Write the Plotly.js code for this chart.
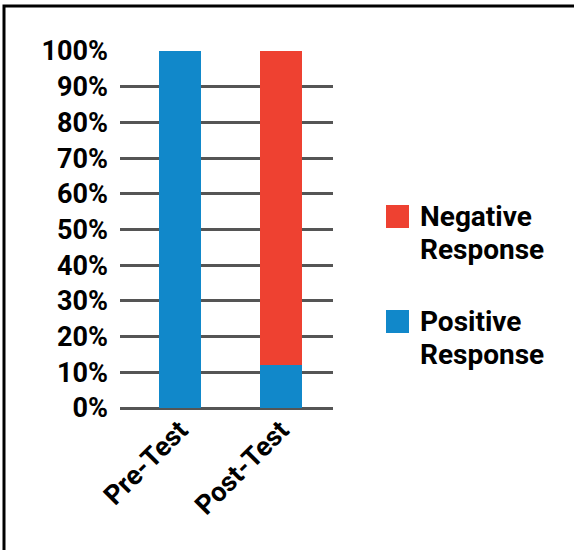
<!DOCTYPE html>
<html>
<head>
<meta charset="utf-8">
<script src="https://cdn.plot.ly/plotly-3.0.1.min.js"></script>
<style>html,body{margin:0;padding:0;background:#fff;}#chart{width:574px;height:550px;}</style>
</head>
<body>
<div id="chart"></div>
<script>
const categories = ["Pre-Test", "Post-Test"];
const seriesNames = ["Positive Response", "Negative Response"];
const positiveValues = [100, 12];
const negativeValues = [0, 88];
const legendLines = [["Negative", "Response"], ["Positive", "Response"]];

const BLUE = "#1188CA";
const RED = "#EE4131";
const FONT = "Roboto, 'Liberation Sans', Arial, sans-serif";

// plot area pixel geometry
const W = 574, H = 550;
const L = 120, R = 333, T = 51, B = 408;
const px = x => (x - L) / (R - L);
const py = y => (B - y) / (B - T);

const traces = [
  {type: "bar", name: seriesNames[0], x: categories, y: positiveValues,
   marker: {color: BLUE}, width: 0.416, hoverinfo: "skip"},
  {type: "bar", name: seriesNames[1], x: categories, y: negativeValues,
   marker: {color: RED}, width: 0.416, hoverinfo: "skip"}
];

const tickFont = {family: FONT, size: 27, color: "#000", weight: 700};

const annotations = [];
const shapes = [];
const legendColors = [RED, BLUE];
const legendTops = [205, 310];
legendLines.forEach((lines, i) => {
  const top = legendTops[i];
  shapes.push({type: "rect", xref: "paper", yref: "paper",
    x0: px(386), x1: px(409), y0: py(top), y1: py(top + 23),
    fillcolor: legendColors[i], line: {width: 0}});
  lines.forEach((t, j) => {
    annotations.push({xref: "paper", yref: "paper", x: px(418), y: py(top + 11 + j * 33),
      xanchor: "left", yanchor: "middle", showarrow: false, text: t,
      font: {family: FONT, size: 28, color: "#000", weight: 700}});
  });
});

// frame
shapes.push({type: "path", xref: "paper", yref: "paper",
  path: `M ${px(4)},${py(560)} L ${px(4)},${py(6)} L ${px(580)},${py(6)}`,
  line: {color: "#000", width: 3}});

const layout = {
  width: W, height: H,
  margin: {l: L, r: W - R, t: T, b: H - B, pad: 0},
  paper_bgcolor: "#fff", plot_bgcolor: "#fff",
  barmode: "stack", showlegend: false,
  xaxis: {type: "category", range: [-0.594, 1.515], showgrid: false, zeroline: false,
    showline: false, ticks: "", tickangle: -45, tickfont: tickFont, fixedrange: true},
  yaxis: {range: [0, 100], dtick: 10, ticksuffix: "%", showgrid: true,
    gridcolor: "#555", gridwidth: 3, zeroline: true, zerolinecolor: "#555", zerolinewidth: 3,
    showline: false, ticks: "", ticklabelstandoff: 11, tickfont: tickFont, fixedrange: true},
  annotations: annotations,
  shapes: shapes
};

Plotly.newPlot("chart", traces, layout, {displayModeBar: false, staticPlot: true});
</script>
</body>
</html>
